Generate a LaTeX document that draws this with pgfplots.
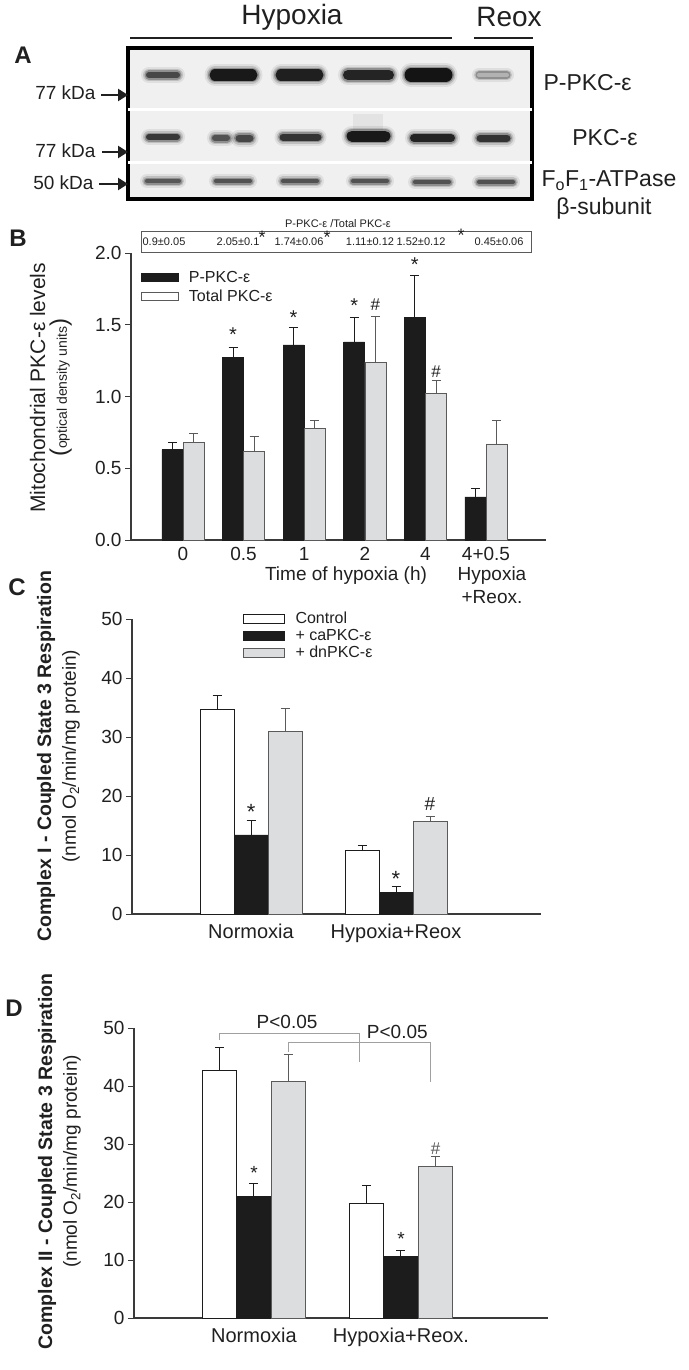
\documentclass[border=0pt]{standalone}
\usepackage{fontspec}
\setmainfont{Liberation Sans}
\usepackage{pgfplots}
\usepackage{pgfplotstable}
\pgfplotsset{compat=1.18}
\usetikzlibrary{arrows.meta}

\definecolor{barblack}{HTML}{1C1C1C}
\definecolor{bargray}{HTML}{DCDDDF}
\definecolor{edgegray}{HTML}{5A5A5A}
\definecolor{axisgray}{HTML}{3A3A3A}
\definecolor{blotbg}{HTML}{F0F0F0}
\definecolor{txt}{HTML}{202020}
\definecolor{brk}{HTML}{A0A0A0}
\newcommand\fsz[1]{\fontsize{#1}{#1}\selectfont}

\pgfplotstableread{
x pp ppe tot tote
0 0.63 0.05 0.68 0.06
1 1.27 0.07 0.62 0.10
2 1.36 0.12 0.78 0.05
3 1.38 0.17 1.24 0.32
4 1.55 0.29 1.02 0.09
5 0.30 0.06 0.67 0.16
}\tabB
\pgfplotstableread{
x ctl ctle ca cae dn dne
0 34.7 2.4 13.4 2.5 31.0 3.9
1 10.8 0.8 3.6 1.1 15.7 0.8
}\tabC
\pgfplotstableread{
x ctl ctle ca cae dn dne
0 42.7 3.9 21.0 2.2 40.8 4.7
1 19.7 3.2 10.6 1.1 26.2 1.7
}\tabD

\pgfplotsset{
 /pgf/number format/assume math mode=true,
 panel/.style={scale only axis, anchor=south west, axis x line*=bottom, axis y line*=left,
   axis line style={draw=axisgray, line width=1.1pt}, tick align=outside, major tick length=6pt,
   xtick style={draw=none}, ytick style={draw=axisgray, line width=1pt},
   clip=false, ylabel style={align=center}},
 errb/.style={/pgfplots/error bars/y dir=plus, /pgfplots/error bars/y explicit,
   /pgfplots/error bars/error bar style={line width=1pt, #1},
   /pgfplots/error bars/error mark options={rotate=90, line width=1pt, mark size=4.5pt, #1}},
}

% blot band: x1 x2 y height darkness
\newcommand\band[5]{%
 \addplot[draw=black, opacity=0.07, line width=#4pt+10pt, line cap=round] coordinates {(#1,#3) (#2,#3)};
 \addplot[draw=black, opacity=0.14, line width=#4pt+6pt, line cap=round] coordinates {(#1,#3) (#2,#3)};
 \addplot[draw=black, opacity=0.25, line width=#4pt+3pt, line cap=round] coordinates {(#1,#3) (#2,#3)};
 \addplot[draw=black!#5, line width=#4pt, line cap=round] coordinates {(#1,#3) (#2,#3)};
}

\begin{document}
\begin{tikzpicture}
\useasboundingbox (0pt,0pt) rectangle (688pt,-1370pt);
\color{txt}
% ---------------- Panel A ----------------
\begin{scope}[x=1pt,y=1pt]
\node[font=\fsz{28}] at (292,-17) {Hypoxia};
\node[font=\fsz{28}] at (509,-17) {Reox};
\draw[line width=1.3pt] (130,-38) -- (452,-38);
\draw[line width=1.3pt] (474,-38) -- (533,-38);
\node[font=\bfseries\fsz{24}] at (23,-55) {A};
\end{scope}

\begin{axis}[at={(128pt,-199pt)}, anchor=south west, scale only axis, width=404pt, height=151pt,
  xmin=128, xmax=532, ymin=-199, ymax=-48, ticks=none,
  axis line style={line width=3.5pt, black}, axis background/.style={fill=blotbg}]
 % row separators
 \addplot[draw=white, line width=3pt] coordinates {(128,-109) (532,-109)};
 \addplot[draw=white, line width=3pt] coordinates {(128,-162) (532,-162)};
 % row 1 : P-PKC
 \band{149}{177}{-75}{6}{72}
 \band{215}{252}{-75}{11}{90}
 \band{281}{318}{-75}{11}{88}
 \band{348}{389}{-75}{10}{86}
 \band{411}{446}{-75}{13}{92}
 \band{479}{507}{-75}{4}{30}
 % row 2 : PKC
 \addplot[draw=black, opacity=0.05, line width=30pt] coordinates {(368,-114) (368,-130)};
 \band{149}{177}{-137}{6}{78}
 \band{215}{227}{-138}{6}{68}
 \band{239}{250}{-138}{7}{72}
 \band{283}{318}{-137}{7}{80}
 \band{352}{385}{-136}{11}{90}
 \band{414}{451}{-138}{8}{86}
 \band{480}{507}{-138}{7}{80}
 % row 3 : ATPase
 \band{147}{179}{-181}{4}{66}
 \band{216}{250}{-181}{4}{68}
 \band{283}{317}{-181}{4}{68}
 \band{353}{387}{-181}{4}{68}
 \band{415}{449}{-182}{4}{68}
 \band{479}{513}{-182}{4}{68}
\end{axis}

\begin{scope}[x=1pt,y=1pt]
\node[font=\fsz{19}, anchor=east] at (99,-93) {77 kDa};
\node[font=\fsz{19}, anchor=east] at (99,-151) {77 kDa};
\node[font=\fsz{19}, anchor=east] at (97,-183) {50 kDa};
\draw[line width=2.6pt, -{Triangle[length=10pt,width=12pt]}] (101,-95) -- (128,-95);
\draw[line width=2.6pt, -{Triangle[length=10pt,width=12pt]}] (102,-152) -- (128,-152);
\draw[line width=2.6pt, -{Triangle[length=10pt,width=12pt]}] (99,-184) -- (128,-184);

\node[font=\fsz{23}, anchor=west] at (540,-83) {P-PKC-ε};
\node[font=\fsz{23}] at (605,-138) {PKC-ε};
\node[font=\fsz{23}, anchor=west] at (538,-181) {F\textsubscript{o}F\textsubscript{1}-ATPase};
\node[font=\fsz{23}] at (604,-209) {β-subunit};

% ---------------- Panel B annotations ----------------
\node[font=\bfseries\fsz{24}] at (18,-238) {B};
\node[font=\fsz{11}] at (338,-224) {P-PKC-ε /Total PKC-ε};
\draw[edgegray, line width=0.7pt] (141,-231) rectangle (531,-252);
\node[font=\fsz{11}] at (164,-242) {0.9±0.05};
\node[font=\fsz{11}] at (238,-242) {2.05±0.1};
\node[font=\fsz{11}] at (299,-242) {1.74±0.06};
\node[font=\fsz{11}] at (370,-242) {1.11±0.12};
\node[font=\fsz{11}] at (421,-242) {1.52±0.12};
\node[font=\fsz{11}] at (499,-242) {0.45±0.06};
\node[font=\fsz{18}] at (262,-237) {*};
\node[font=\fsz{18}] at (327,-237) {*};
\node[font=\fsz{18}] at (461,-235) {*};
\node[font=\fsz{19}] at (346,-576) {Time of hypoxia (h)};
\node[font=\fsz{19}] at (492,-576) {Hypoxia};
\node[font=\fsz{19}] at (492,-597) {+Reox.};
\node[font=\bfseries\fsz{24}] at (17,-587) {C};
\node[font=\bfseries\fsz{24}] at (14,-1008) {D};
\end{scope}

% ---------------- Panel B ----------------
\begin{axis}[panel, at={(131pt,-540pt)}, width=415pt, height=287pt,
  xmin=-0.858, xmax=5.99, ymin=0, ymax=2,
  ytick={0,0.5,1,1.5,2},
  yticklabel style={font=\fsz{19}, /pgf/number format/fixed, /pgf/number format/fixed zerofill, /pgf/number format/precision=1},
  xtick={0,1,2,3,4,5}, xticklabels={0,0.5,1,2,4,4+0.5}, xticklabel style={font=\fsz{19}, yshift=2pt},
  ylabel={\fsz{21}Mitochondrial PKC-ε levels\\[3pt]{\fsz{24}(}{\fsz{14}optical density units}{\fsz{24})}},
  ylabel style={at={(axis description cs:-0.193,0.53)}, anchor=center},
  legend style={at={(axis description cs:0.024,0.945)}, anchor=north west, draw=none, fill=none,
    font=\fsz{16}, row sep=2pt, inner sep=0pt, legend cell align=left,
    /tikz/every odd column/.append style={column sep=8pt}},
  legend image code/.code={\draw[#1, line width=0.8pt] (0pt,-4pt) rectangle (37pt,4pt);},
 ]
 \addlegendimage{fill=barblack, draw=barblack}
 \addlegendentry{P-PKC-ε}
 \addlegendimage{fill=white, draw=edgegray}
 \addlegendentry{Total PKC-ε}
 \addplot[ybar, bar width=21pt, bar shift=0pt, fill=barblack, draw=barblack, line width=0.6pt, forget plot, errb=barblack]
   table[x expr=\thisrow{x}-0.1749, y=pp, y error=ppe]{\tabB};
 \addplot[ybar, bar width=21pt, bar shift=0pt, fill=bargray, draw=edgegray, line width=0.6pt, forget plot, errb=edgegray]
   table[x expr=\thisrow{x}+0.1749, y=tot, y error=tote]{\tabB};
 \node[font=\fsz{20}, xshift=-10.6pt] at (axis cs:1,1.43) {*};
 \node[font=\fsz{20}, xshift=-10.6pt] at (axis cs:2,1.55) {*};
 \node[font=\fsz{20}, xshift=-10.6pt] at (axis cs:3,1.63) {*};
 \node[font=\fsz{20}, xshift=-10.6pt] at (axis cs:4,1.92) {*};
 \node[font=\fsz{17}, xshift=10.6pt] at (axis cs:3,1.64) {\#};
 \node[font=\fsz{17}, xshift=10.6pt] at (axis cs:4,1.17) {\#};
\end{axis}

% ---------------- Panel C ----------------
\begin{axis}[panel, at={(132pt,-914pt)}, width=409pt, height=295pt,
  xmin=-0.821, xmax=2.0, ymin=0, ymax=50,
  ytick={0,10,20,30,40,50}, yticklabel style={font=\fsz{19}},
  xtick={0,1}, xticklabels={Normoxia,Hypoxia+Reox}, xticklabel style={font=\fsz{20}},
  ylabel={\fsz{19.5}\bfseries Complex I - Coupled State 3 Respiration\\[6pt]\fsz{19}(nmol O\textsubscript{2}/min/mg protein)},
  ylabel style={at={(axis description cs:-0.18,0.535)}, anchor=center},
  legend style={at={(axis description cs:0.27,1.03)}, anchor=north west, draw=none, fill=none,
    font=\fsz{16}, row sep=0pt, inner sep=0pt, legend cell align=left,
    /tikz/every odd column/.append style={column sep=9pt}},
  legend image code/.code={\draw[#1, line width=0.9pt] (0pt,-4.5pt) rectangle (41pt,4.5pt);},
 ]
 \addlegendimage{fill=white, draw=barblack}
 \addlegendentry{Control}
 \addlegendimage{fill=barblack, draw=barblack}
 \addlegendentry{+ caPKC-ε}
 \addlegendimage{fill=bargray, draw=edgegray}
 \addlegendentry{+ dnPKC-ε}
 \addplot[ybar, bar width=34pt, bar shift=0pt, fill=white, draw=barblack, line width=0.8pt, forget plot, errb=barblack]
   table[x expr=\thisrow{x}-0.2345, y=ctl, y error=ctle]{\tabC};
 \addplot[ybar, bar width=34pt, bar shift=0pt, fill=barblack, draw=barblack, line width=0.8pt, forget plot, errb=barblack]
   table[x=x, y=ca, y error=cae]{\tabC};
 \addplot[ybar, bar width=34pt, bar shift=0pt, fill=bargray, draw=edgegray, line width=0.8pt, forget plot, errb=edgegray]
   table[x expr=\thisrow{x}+0.2345, y=dn, y error=dne]{\tabC};
 \node[font=\fsz{22}] at (axis cs:0,17.3) {*};
 \node[font=\fsz{22}] at (axis cs:1,6.0) {*};
 \node[font=\fsz{19}, xshift=34pt] at (axis cs:1,18.6) {\#};
\end{axis}

% ---------------- Panel D ----------------
\begin{axis}[panel, at={(134pt,-1318pt)}, width=414pt, height=290pt,
  xmin=-0.816, xmax=2.0, ymin=0, ymax=50,
  ytick={0,10,20,30,40,50}, yticklabel style={font=\fsz{19}},
  xtick={0,1}, xticklabels={Normoxia,Hypoxia+Reox.}, xticklabel style={font=\fsz{20}},
  ylabel={\fsz{19.5}\bfseries Complex II - Coupled State 3 Respiration\\[6pt]\fsz{19}(nmol O\textsubscript{2}/min/mg protein)},
  ylabel style={at={(axis description cs:-0.18,0.54)}, anchor=center},
 ]
 \addplot[ybar, bar width=34.5pt, bar shift=0pt, fill=white, draw=barblack, line width=0.8pt, errb=barblack]
   table[x expr=\thisrow{x}-0.2347, y=ctl, y error=ctle]{\tabD};
 \addplot[ybar, bar width=34.5pt, bar shift=0pt, fill=barblack, draw=barblack, line width=0.8pt, errb=barblack]
   table[x=x, y=ca, y error=cae]{\tabD};
 \addplot[ybar, bar width=34.5pt, bar shift=0pt, fill=bargray, draw=edgegray, line width=0.8pt, errb=edgegray]
   table[x expr=\thisrow{x}+0.2347, y=dn, y error=dne]{\tabD};
 % significance brackets
 \addplot[draw=brk, line width=1.2pt] coordinates {(-0.235,47.9) (-0.235,49.1) (0.72,49.1) (0.72,44.2)};
 \addplot[draw=brk, line width=1.2pt] coordinates {(0.235,45.9) (0.235,47.5) (1.20,47.5) (1.20,40.7)};
 \node[font=\fsz{19}] at (axis cs:0.225,51.1) {P<0.05};
 \node[font=\fsz{19}] at (axis cs:0.975,49.4) {P<0.05};
 \node[font=\fsz{19}] at (axis cs:0,25.0) {*};
 \node[font=\fsz{19}] at (axis cs:1,13.6) {*};
 \node[font=\fsz{17}, text=edgegray, xshift=34.5pt] at (axis cs:1,29.2) {\#};
\end{axis}
\end{tikzpicture}
\end{document}
